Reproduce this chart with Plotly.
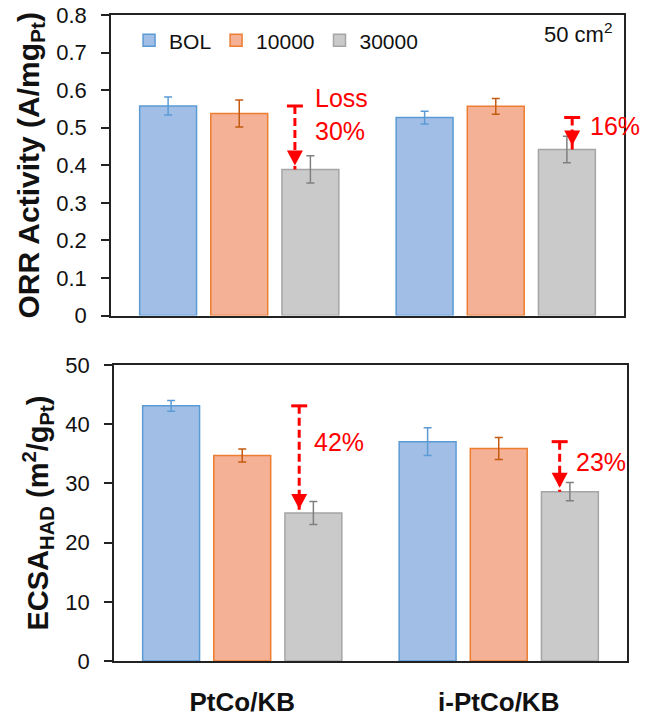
import plotly.graph_objects as go

# ---- data -------------------------------------------------------------
categories = ["PtCo/KB", "i-PtCo/KB"]
series_names = ["BOL", "10000", "30000"]

orr_bol = [0.558, 0.527]
orr_10k = [0.538, 0.557]
orr_30k = [0.389, 0.442]
orr_bol_err = [0.024, 0.017]
orr_10k_err = [0.036, 0.021]
orr_30k_err = [0.036, 0.035]

ecsa_bol = [43.1, 37.05]
ecsa_10k = [34.7, 35.9]
ecsa_30k = [25.0, 28.6]
ecsa_bol_err = [0.9, 2.35]
ecsa_10k_err = [1.1, 1.85]
ecsa_30k_err = [1.95, 1.55]

orr_ticks = [0, 0.1, 0.2, 0.3, 0.4, 0.5, 0.6, 0.7, 0.8]
orr_tick_labels = ["0", "0.1", "0.2", "0.3", "0.4", "0.5", "0.6", "0.7", "0.8"]

orr_loss_labels = ["Loss<br>30%", "16%"]
ecsa_loss_labels = ["42%", "23%"]

# ---- styling ----------------------------------------------------------
fills = ["#a1bfe6", "#f4b195", "#cacaca"]
edges = ["#5b9bd5", "#ed7d31", "#a5a5a5"]
err_colors = ["#5b9bd5", "#c55a11", "#7f7f7f"]
RED = "#ff0000"
FONT = "Liberation Sans"
INK = "#111111"

xpos = list(range(len(categories)))

fig = go.Figure()

top_vals = [orr_bol, orr_10k, orr_30k]
top_errs = [orr_bol_err, orr_10k_err, orr_30k_err]
bot_vals = [ecsa_bol, ecsa_10k, ecsa_30k]
bot_errs = [ecsa_bol_err, ecsa_10k_err, ecsa_30k_err]

for i, name in enumerate(series_names):
    fig.add_trace(go.Bar(
        x=xpos, y=top_vals[i], name=name, legendgroup=name,
        marker=dict(color=fills[i], line=dict(color=edges[i], width=1.5)),
        error_y=dict(type="data", array=top_errs[i], color=err_colors[i],
                     thickness=1.5, width=4),
        xaxis="x", yaxis="y", offsetgroup=str(i),
    ))
for i, name in enumerate(series_names):
    fig.add_trace(go.Bar(
        x=xpos, y=bot_vals[i], name=name, legendgroup=name, showlegend=False,
        marker=dict(color=fills[i], line=dict(color=edges[i], width=1.5)),
        error_y=dict(type="data", array=bot_errs[i], color=err_colors[i],
                     thickness=1.5, width=4),
        xaxis="x2", yaxis="y2", offsetgroup=str(i),
    ))

# ---- loss arrows (dashed shaft, T cap, filled head) -------------------
shapes = []
annotations = []


def loss_arrow(xref, yref, xc, y_from, y_to):
    shapes.append(dict(type="line", xref=xref, yref=yref, x0=xc, x1=xc,
                       y0=y_from, y1=y_to,
                       line=dict(color=RED, width=3, dash="8px,4px")))
    shapes.append(dict(type="line", xref=xref, yref=yref, xsizemode="pixel",
                       xanchor=xc, x0=-8, x1=8, y0=y_from, y1=y_from,
                       line=dict(color=RED, width=3)))
    shapes.append(dict(type="path", xref=xref, yref=yref,
                       xsizemode="pixel", ysizemode="pixel",
                       xanchor=xc, yanchor=y_to,
                       path="M-8,19 L8,19 L0,4 Z",
                       fillcolor=RED, line=dict(color=RED, width=0)))


top_arrow_x = [0.217, 1.298]
bot_arrow_x = [0.222, 1.2375]
for k in range(len(categories)):
    loss_arrow("x", "y", top_arrow_x[k], orr_bol[k], orr_30k[k])
    loss_arrow("x2", "y2", bot_arrow_x[k], ecsa_bol[k], ecsa_30k[k])

top_text_pos = [(0.287, 0.534), (1.361, 0.505)]
bot_text_pos = [(0.270, 37.0), (1.292, 33.7)]
for k in range(len(categories)):
    annotations.append(dict(xref="x", yref="y", x=top_text_pos[k][0],
                            y=top_text_pos[k][1], text=orr_loss_labels[k],
                            showarrow=False, xanchor="left", yanchor="middle",
                            align="left",
                            font=dict(family=FONT, size=25, color=RED)))
    annotations.append(dict(xref="x2", yref="y2", x=bot_text_pos[k][0],
                            y=bot_text_pos[k][1], text=ecsa_loss_labels[k],
                            showarrow=False, xanchor="left", yanchor="middle",
                            font=dict(family=FONT, size=25, color=RED)))

annotations.append(dict(xref="paper", yref="paper", x=0.975, y=0.972,
                        text="50 cm<sup>2</sup>", showarrow=False,
                        xanchor="right", yanchor="middle",
                        font=dict(family=FONT, size=22, color=INK)))

axis_common = dict(showline=True, linecolor="#222222", linewidth=1.5,
                   mirror=True, showgrid=False, zeroline=False,
                   automargin=False)

fig.update_layout(
    width=646, height=718,
    margin=dict(l=111, r=19, t=15, b=57),
    paper_bgcolor="white", plot_bgcolor="white",
    barmode="group", bargap=0.168, bargroupgap=0.2,
    font=dict(family=FONT, color=INK),
    showlegend=True,
    legend=dict(orientation="h", x=0.035, y=0.992, xanchor="left",
                yanchor="top", bgcolor="rgba(0,0,0,0)",
                font=dict(family=FONT, size=21, color=INK),
                traceorder="normal"),
    xaxis=dict(domain=[0, 0.9942], anchor="y", range=[-0.5, 1.5],
               tickvals=xpos, showticklabels=False, ticks="", **axis_common),
    yaxis=dict(domain=[0.5348, 1.0], anchor="x", range=[0, 0.8],
               tickvals=orr_ticks, ticktext=orr_tick_labels,
               ticks="outside", ticklen=8,
               tickwidth=1.5, tickcolor="#222222", ticklabelstandoff=10,
               tickfont=dict(family=FONT, size=22, color=INK),
               title=dict(text="ORR Activity (A/mg<sub>Pt</sub>)",
                          font=dict(family=FONT, size=30, weight="bold",
                                    color=INK), standoff=8),
               **axis_common),
    xaxis2=dict(domain=[0.0058, 1.0], anchor="y2", range=[-0.5, 1.5],
                tickvals=xpos, ticktext=categories, ticks="",
                ticklabelstandoff=17,
                tickfont=dict(family=FONT, size=26, weight="bold",
                              color=INK), **axis_common),
    yaxis2=dict(domain=[0, 0.4582], anchor="x2", range=[0, 50],
                dtick=10, ticks="outside", ticklen=8, tickwidth=1.5,
                tickcolor="#222222", ticklabelstandoff=10,
                tickfont=dict(family=FONT, size=22, color=INK),
                title=dict(text="ECSA<sub>HAD</sub> (m<sup>2</sup>/g<sub>Pt</sub>)",
                           font=dict(family=FONT, size=29, weight="bold",
                                     color=INK), standoff=8),
                **axis_common),
    shapes=shapes,
    annotations=annotations,
)

fig.write_html("out.html")
